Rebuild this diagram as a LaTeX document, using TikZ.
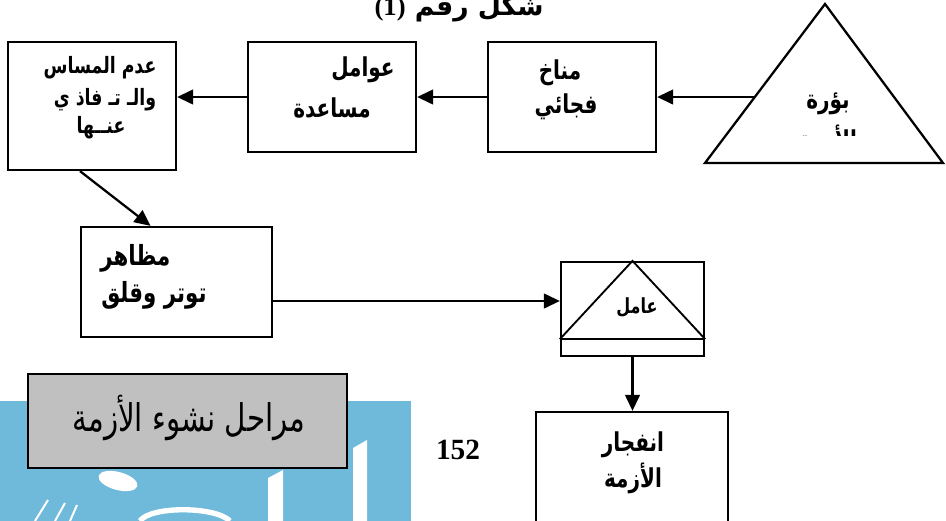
\documentclass[tikz,border=0pt]{standalone}
\usepackage{graphicx}
\usepackage{fontspec}
\setmainfont{Liberation Serif}
\newfontfamily\arb[Script=Arabic]{DejaVu Sans}
\TeXXeTstate=1
\usetikzlibrary{arrows.meta,calc}
\definecolor{wmblue}{RGB}{111,185,219}
\definecolor{boxgray}{RGB}{192,192,192}
\newcommand{\ARt}[1]{\scalebox{1}[1.3]{\beginR #1\endR}}
\begin{document}
\begin{tikzpicture}[x=0.75pt,y=-0.75pt,
  box/.style={draw,line width=1.7pt,inner sep=0pt},
  conn/.style={line width=1.7pt,-{Triangle[length=12pt,width=11pt]}},
  lbl/.style={font=\arb\bfseries\fontsize{13}{15}\selectfont,inner sep=0pt},
  lblb/.style={font=\arb\bfseries\fontsize{15}{17}\selectfont,inner sep=0pt}]
\useasboundingbox (0,0) rectangle (946,521);
% watermark background
\fill[wmblue] (0,401) rectangle (411,521);
\fill[white] (353,448) -- (367,440) -- (367,521) -- (353,521) -- cycle;
\fill[white] (268,478) -- (283,470) -- (283,521) -- (268,521) -- cycle;
\fill[white,rotate around={-15:(118,481)}] (118,481) ellipse (20 and 9);
\draw[white,line width=4pt] (140,521) .. controls (150,506) and (215,506) .. (230,521);
\draw[white,line width=1.5pt] (35,521) -- (48,500) (55,521) -- (65,503) (70,521) -- (77,505);
% title (cut by the top edge, as in the reference)
\node[font=\arb\bfseries\fontsize{20}{22}\selectfont,anchor=base,inner sep=0pt] (title) at (459,15) {\beginR شكل رقم \beginL{\rmfamily\bfseries(1)}\endL\endR};
% boxes
\node[box,minimum width=126pt,minimum height=96pt] (b1) at (92,106) {};
\node[box,minimum width=126pt,minimum height=82.5pt] (b2) at (332,97) {};
\node[box,minimum width=126pt,minimum height=82.5pt] (b3) at (572,97) {};
\node[box,minimum width=143.25pt,minimum height=82.5pt] (b4) at (176.5,282) {};
\node[box,minimum width=107.25pt,minimum height=70.5pt] (b5) at (632.5,309) {};
\node[box,minimum width=144pt,minimum height=96pt] (b6) at (632,476) {};
\node[box,fill=boxgray,minimum width=239.25pt,minimum height=70.5pt] (gb) at (187.5,421) {};
% big triangle
\coordinate (tA) at (825,4);
\coordinate (tL) at (705,163);
\coordinate (tR) at (943,163);
\draw[line width=1.7pt,line join=miter] (tL) -- (tA) -- (tR) -- cycle;
\coordinate (tin) at ($(tL)!0.415!(tA)$);
% inner triangle of b5
\coordinate (b5l) at ($(b5.south west)+(0,-18)$);
\coordinate (b5r) at ($(b5.south east)+(0,-18)$);
\draw[line width=1.7pt] (b5l) -- (b5r);
\draw[line width=1.4pt] (b5l) -- (b5.north) -- (b5r);
% connectors
\draw[conn] (tin) -- (tin -| b3.east);
\draw[conn] (b3.west) -- (b2.east);
\draw[conn] (b2.west) -- (b2.west -| b1.east);
\draw[conn] ($(b1.south)+(-12,0)$) -- ($(b4.north)+(-26,0)$);
\draw[conn] ($(b4.east)+(0,19)$) coordinate (s45) -- (s45 -| b5.west);
\draw[conn] (b5.south) -- (b5.south |- b6.north);
% labels
\node[lbl] (t1a) at (100,68) {\ARt{عدم المساس}};
\node[lbl] (t1b) at (105,100) {\ARt{والـ  تـ فاذ ي}};
\node[lbl] (t1c) at (101,128) {\ARt{عنــها}};
\node[lblb] (t2a) at (363,70) {\ARt{عوامل}};
\node[lblb] (t2b) at (332,108) {\ARt{مساعدة}};
\node[lblb] (t3a) at (560,73) {\ARt{مناخ}};
\node[lblb] (t3b) at (566,107) {\ARt{فجائي}};
\node[lblb] (tr1) at (828,104) {\ARt{بؤرة}};
\begin{scope}
\clip (700,0) rectangle (946,135);
\node[lblb] (tr2) at (828,140) {\ARt{الأزمة}};
\end{scope}
\node[lbl,font=\arb\bfseries\fontsize{16}{18}\selectfont,anchor=west] (t4a) at (100,258) {\ARt{مظاهر}};
\node[lbl,font=\arb\bfseries\fontsize{16}{18}\selectfont,anchor=west] (t4b) at (101,295) {\ARt{توتر وقلق}};
\node[lbl,font=\arb\bfseries\fontsize{12}{14}\selectfont] (t5) at (637,307) {\ARt{عامل}};
\node[lblb] (t6a) at (633,445) {\ARt{انفجار}};
\node[lblb] (t6b) at (633,478) {\ARt{الأزمة}};
\node[font=\arb\fontsize{22}{24}\selectfont,inner sep=0pt] (gt) at (189,418) {\ARt{مراحل نشوء الأزمة}};
\node[font=\rmfamily\bfseries\fontsize{22}{24}\selectfont,inner sep=0pt] (num) at (458,450) {152};
\end{tikzpicture}
\end{document}
